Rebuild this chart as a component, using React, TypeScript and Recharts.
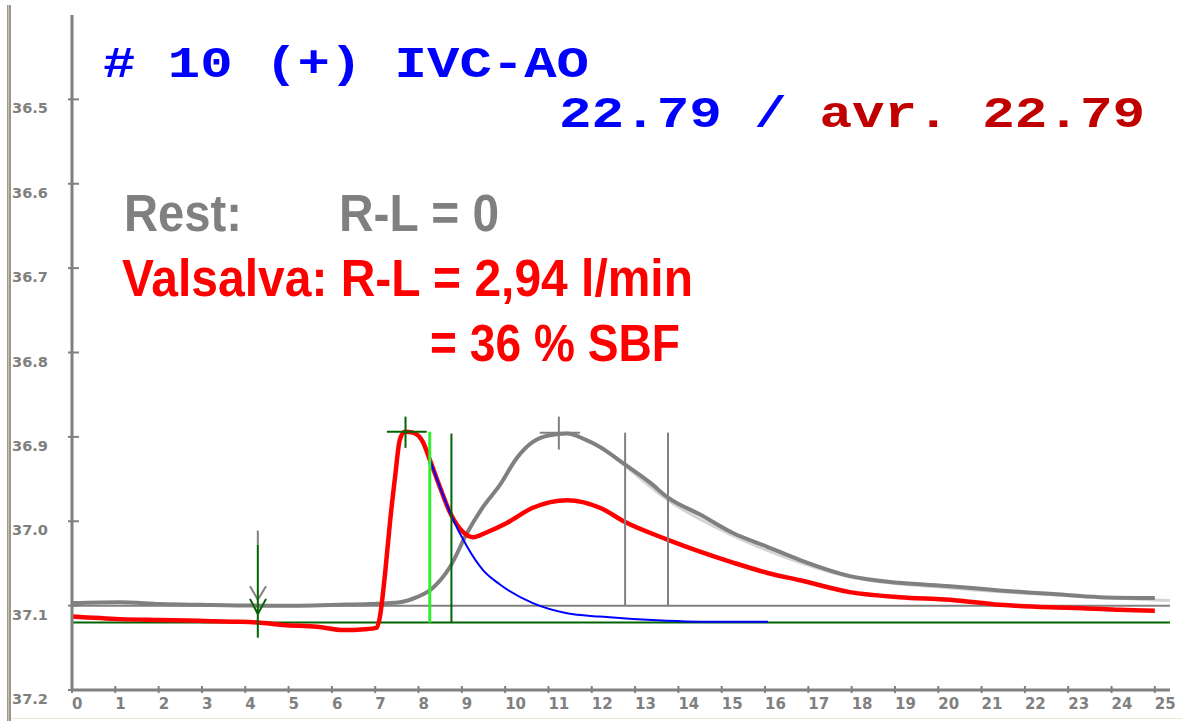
import React from "react";
import { ComposedChart, Line, XAxis, YAxis, ReferenceLine } from "recharts";

// time axis (s) and level (reversed scale)
const xTicks = [0, 1, 2, 3, 4, 5, 6, 7, 8, 9, 10, 11, 12, 13, 14, 15, 16, 17, 18, 19, 20, 21, 22, 23, 24, 25];
const yTicks = [36.5, 36.6, 36.7, 36.8, 36.9, 37.0, 37.1, 37.2];

// Rest curve (gray)
const grayTime = [0, 1.11, 2.03, 2.95, 4.29, 5.26, 6.19, 6.88, 7.57, 7.96, 8.33, 8.73, 9.12, 9.49, 9.88, 10.27, 10.64, 11.03, 11.43, 11.84, 12.19, 12.77, 13.34, 13.76, 14.5, 15.26, 16.04, 16.81, 17.96, 19.11, 20.27, 21.42, 22.58, 23.73, 25.0];
const grayLevel = [37.097, 37.096, 37.098, 37.099, 37.1, 37.1, 37.099, 37.098, 37.096, 37.09, 37.079, 37.054, 37.014, 36.983, 36.957, 36.925, 36.906, 36.898, 36.896, 36.903, 36.912, 36.933, 36.954, 36.972, 36.992, 37.014, 37.03, 37.046, 37.065, 37.073, 37.077, 37.082, 37.086, 37.09, 37.091];

// Valsalva curve (red)
const redTime = [0, 1.11, 2.03, 2.95, 3.72, 4.29, 4.87, 5.66, 6.26, 6.76, 7.04, 7.11, 7.23, 7.34, 7.46, 7.57, 7.69, 7.87, 8.1, 8.26, 8.49, 8.73, 9.03, 9.26, 9.58, 10.04, 10.64, 11.43, 12.19, 12.77, 13.76, 14.5, 15.26, 16.04, 16.81, 17.96, 19.11, 20.27, 21.42, 22.58, 23.34, 24.19, 25.0];
const redLevel = [37.113, 37.116, 37.117, 37.118, 37.119, 37.12, 37.123, 37.125, 37.129, 37.128, 37.126, 37.113, 37.061, 37.002, 36.947, 36.903, 36.894, 36.895, 36.906, 36.927, 36.959, 36.99, 37.013, 37.019, 37.013, 37.002, 36.984, 36.975, 36.984, 37.001, 37.022, 37.036, 37.049, 37.061, 37.07, 37.084, 37.09, 37.093, 37.099, 37.102, 37.103, 37.105, 37.106];

// exponential extrapolation of the first pass (blue)
const blueTime = [8.26, 8.49, 8.73, 9.12, 9.49, 9.88, 10.64, 11.43, 12.19, 13.73, 14.5, 16.07];
const blueLevel = [36.927, 36.959, 36.99, 37.03, 37.058, 37.075, 37.097, 37.109, 37.113, 37.118, 37.119, 37.119];

// fitted tail of the rest curve (light gray)
const fitTime = [12.77, 13.76, 15.26, 16.81, 17.96, 20.27, 22.58, 24.88, 25.35];
const fitLevel = [36.934, 36.975, 37.017, 37.049, 37.066, 37.079, 37.087, 37.093, 37.094];

const restBaseline = 37.1;
const valsalvaBaseline = 37.12;

// marker segments [[t1, v1], [t2, v2]]
const greenSegments = [
  [[4.29, 37.028], [4.29, 37.138]],
  [[4.11, 37.092], [4.29, 37.11]],
  [[4.48, 37.092], [4.29, 37.11]],
  [[7.27, 36.894], [8.19, 36.894]],
  [[7.7, 36.876], [7.7, 36.913]],
  [[8.76, 36.896], [8.76, 37.12]],
];
const graySegments = [
  [[4.29, 37.011], [4.29, 37.028]],
  [[4.11, 37.077], [4.29, 37.093]],
  [[4.48, 37.077], [4.29, 37.093]],
  [[10.8, 36.895], [11.73, 36.895]],
  [[11.24, 36.876], [11.24, 36.915]],
  [[12.77, 36.895], [12.77, 37.1]],
  [[13.76, 36.895], [13.76, 37.1]],
];
const limeSegments = [[[8.26, 36.894], [8.26, 37.12]]];

const zip = (t: number[], v: number[]) => t.map((x, i) => ({ t: x, v: v[i] }));

const grayData = zip(grayTime, grayLevel);
const redData = zip(redTime, redLevel);
const blueData = zip(blueTime, blueLevel);
const fitData = zip(fitTime, fitLevel);

const AXIS = "#808080";

function YTick({ x, y, payload }: any) {
  return (
    <g>
      <line x1={x - 4} x2={x + 7} y1={y} y2={y} stroke={AXIS} strokeWidth={2} />
      <text x={x - 60} y={y + 14} fill={AXIS} fontSize={14} fontWeight="bold" fontFamily="DejaVu Sans" textLength={36} lengthAdjust="spacingAndGlyphs">
        {payload.value.toFixed(1)}
      </text>
    </g>
  );
}

function XTick({ x, y, payload }: any) {
  return (
    <g>
      <line x1={x} x2={x} y1={y - 4} y2={y + 3} stroke={AXIS} strokeWidth={2} />
      <text x={x} y={y + 19} fill={AXIS} fontSize={15} fontWeight="bold" fontFamily="DejaVu Sans">
        {payload.value}
      </text>
    </g>
  );
}

function segs(list: number[][][], color: string, width: number, prefix: string) {
  return list.map((s, i) => (
    <ReferenceLine
      key={prefix + i}
      segment={[{ x: s[0][0], y: s[0][1] }, { x: s[1][0], y: s[1][1] }]}
      stroke={color}
      strokeWidth={width}
    />
  ));
}

export default function App() {
  return (
    <div style={{ position: "absolute", left: 0, top: 0, width: 1182, height: 721, background: "#fff" }}>
      <ComposedChart width={1182} height={721} margin={{ top: 15, right: 12, bottom: 6, left: 0 }}>
        <XAxis
          type="number"
          dataKey="t"
          domain={[0, 25.35]}
          ticks={xTicks}
          allowDataOverflow
          height={25}
          tickSize={0}
          tickMargin={0}
          tickLine={false}
          axisLine={{ stroke: AXIS, strokeWidth: 3 }}
          tick={<XTick />}
          interval={0}
        />
        <YAxis
          type="number"
          domain={[36.4, 37.2]}
          ticks={yTicks}
          reversed
          allowDataOverflow
          width={72}
          tickSize={0}
          tickMargin={0}
          tickLine={false}
          axisLine={{ stroke: AXIS, strokeWidth: 3 }}
          tick={<YTick />}
          interval={0}
        />
        <ReferenceLine y={restBaseline} stroke={AXIS} strokeWidth={2} />
        <ReferenceLine y={valsalvaBaseline} stroke="#006400" strokeWidth={2} />
        <Line data={fitData} dataKey="v" type="monotone" stroke="#d4d4d4" strokeWidth={3} dot={false} isAnimationActive={false} />
        <Line data={grayData} dataKey="v" type="monotone" stroke="#808080" strokeWidth={4} dot={false} isAnimationActive={false} />
        <Line data={redData} dataKey="v" type="monotone" stroke="#ff0000" strokeWidth={4.5} dot={false} isAnimationActive={false} />
        <Line data={blueData} dataKey="v" type="monotone" stroke="#0000ff" strokeWidth={2} dot={false} isAnimationActive={false} />
        {segs(graySegments, "#808080", 2, "g")}
        {segs(greenSegments, "#006400", 2, "d")}
        {segs(limeSegments, "#33ee33", 3, "l")}
      </ComposedChart>
      <svg width={1182} height={721} style={{ position: "absolute", left: 0, top: 0, pointerEvents: "none" }}>
        <rect x={7} y={5} width={4} height={716} fill="#9c9888" />
        <rect x={8} y={5} width={1} height={716} fill="#c8c4b4" />
        <rect x={11} y={718} width={1171} height={1} fill="#ebe8d8" />
        <text x={103} y={77} fontFamily="Liberation Mono" fontWeight="bold" fontSize={44} fill="#0000ff" textLength={486} lengthAdjust="spacingAndGlyphs" xmlSpace="preserve">
          # 10 (+) IVC-AO
        </text>
        <text x={559} y={127} fontFamily="Liberation Mono" fontWeight="bold" fontSize={44} textLength={586} lengthAdjust="spacingAndGlyphs" xmlSpace="preserve">
          <tspan fill="#0000ff">22.79 / </tspan>
          <tspan fill="#c00000">avr. 22.79</tspan>
        </text>
        <g fontFamily="Liberation Sans" fontWeight="bold" fontSize={51}>
          <text x={124} y={231} fill="#808080" textLength={118} lengthAdjust="spacingAndGlyphs">Rest:</text>
          <text x={339} y={231} fill="#808080" textLength={160} lengthAdjust="spacingAndGlyphs">R-L = 0</text>
          <text x={122} y={296} fill="#ff0000" textLength={571} lengthAdjust="spacingAndGlyphs" xmlSpace="preserve">Valsalva: R-L = 2,94 l/min</text>
          <text x={430} y={361} fill="#ff0000" textLength={250} lengthAdjust="spacingAndGlyphs" xmlSpace="preserve">= 36 % SBF</text>
        </g>
      </svg>
    </div>
  );
}
